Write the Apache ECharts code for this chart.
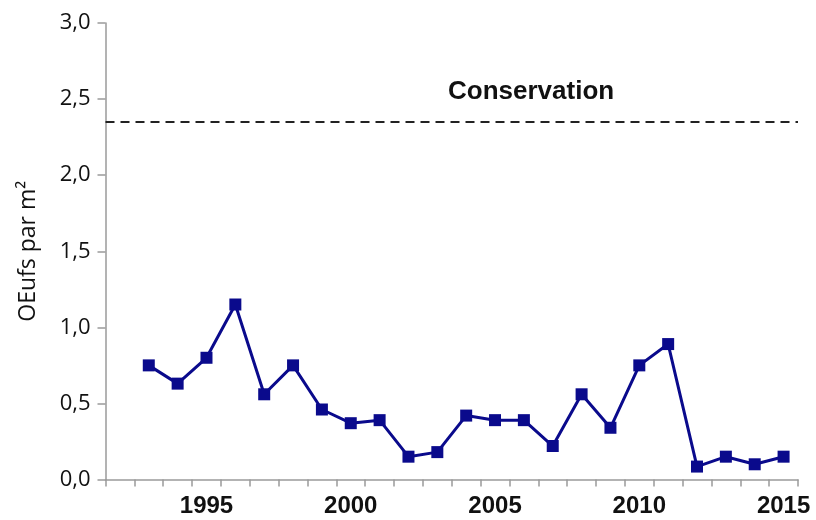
<!DOCTYPE html>
<html><head><meta charset="utf-8">
<script src="https://cdn.jsdelivr.net/npm/echarts@6/dist/echarts.min.js"></script>
<style>html,body{margin:0;padding:0;background:#fff}#c{width:816px;height:520px}</style>
</head><body><div id="c"></div>
<script>
const years = ['1992','1993','1994','1995','1996','1997','1998','1999','2000','2001','2002','2003','2004','2005','2006','2007','2008','2009','2010','2011','2012','2013','2014','2015'];
const eggs = [null,0.75,0.63,0.80,1.15,0.56,0.75,0.46,0.37,0.39,0.15,0.18,0.42,0.39,0.39,0.22,0.56,0.34,0.75,0.89,0.085,0.15,0.10,0.15];
const conservation = 2.355;
const shownYears = ['1995','2000','2005','2010','2015'];
const yTitle = 'OEufs par m²';
const refLabel = 'Conservation';

const chart = echarts.init(document.getElementById('c'), null, {renderer:'canvas'});
chart.setOption({
  animation:false,
  backgroundColor:'#fff',
  title:{text:refLabel,left:443,top:74,textStyle:{fontFamily:'Liberation Sans',fontWeight:'bold',fontSize:26,color:'#111'}},
  grid:{left:105.5,right:18,top:23,bottom:40.5},
  xAxis:{type:'category',data:years,boundaryGap:true,
    axisLine:{lineStyle:{color:'#9a9a9a',width:1.5}},
    axisTick:{show:true,length:7,interval:0,lineStyle:{color:'#9a9a9a',width:1.5}},
    axisLabel:{interval:0,margin:15,formatter:v=>shownYears.includes(v)?v:'',fontFamily:'Liberation Sans',fontWeight:'bold',fontSize:24,color:'#111'},
    splitLine:{show:false}},
  yAxis:{type:'value',min:0,max:3,interval:0.5,
    name:yTitle,nameLocation:'middle',nameGap:66,
    nameTextStyle:{fontFamily:'Open Sans',fontSize:23,color:'#111'},
    axisLine:{show:true,lineStyle:{color:'#9a9a9a',width:1.5}},
    axisTick:{show:true,inside:false,length:8,lineStyle:{color:'#9a9a9a',width:1.5}},
    axisLabel:{margin:15,formatter:v=>v.toFixed(1).replace('.',','),fontFamily:'Open Sans',fontSize:22,color:'#111'},
    splitLine:{show:false}},
  series:[{type:'line',data:eggs,connectNulls:false,symbol:'rect',symbolSize:12,
    lineStyle:{color:'#0a0a8c',width:3},itemStyle:{color:'#0a0a8c'},
    markLine:{silent:true,symbol:'none',label:{show:false},
      lineStyle:{type:[9,6],color:'#222',width:2},
      data:[{yAxis:conservation}]}
  }]
});
</script></body></html>
